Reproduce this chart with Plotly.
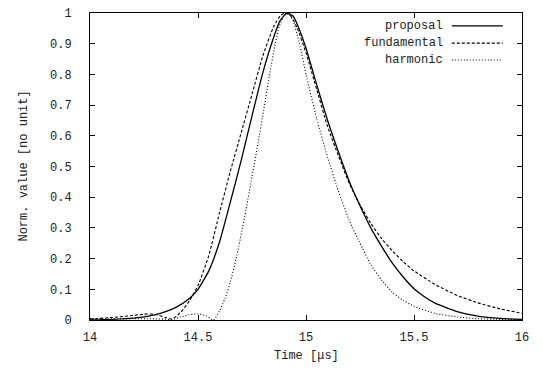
import plotly.graph_objects as go

# ---- data ----
t_proposal = [14.0, 14.1, 14.2, 14.3, 14.35, 14.4, 14.45, 14.5, 14.55, 14.6, 14.65, 14.7,
              14.75, 14.8, 14.85, 14.88, 14.912, 14.94, 14.97, 15.0, 15.05, 15.1, 15.15,
              15.2, 15.25, 15.3, 15.35, 15.4, 15.45, 15.5, 15.55, 15.6, 15.7, 15.8, 15.9, 16.0]
v_proposal = [0.0, 0.002, 0.006, 0.017, 0.027, 0.042, 0.064, 0.100, 0.160, 0.255, 0.385, 0.520,
              0.665, 0.805, 0.920, 0.975, 1.0, 0.99, 0.945, 0.885, 0.765, 0.650, 0.548,
              0.452, 0.372, 0.300, 0.240, 0.185, 0.140, 0.102, 0.075, 0.054, 0.027, 0.012,
              0.005, 0.002]

t_fundamental = [14.0, 14.1, 14.2, 14.25, 14.3, 14.35, 14.38, 14.42, 14.46, 14.5, 14.55, 14.6,
                 14.65, 14.7, 14.75, 14.8, 14.85, 14.88, 14.902, 14.93, 14.96, 15.0, 15.05,
                 15.1, 15.15, 15.2, 15.25, 15.3, 15.35, 15.4, 15.45, 15.5, 15.6, 15.7, 15.8,
                 15.9, 16.0]
v_fundamental = [0.003, 0.008, 0.015, 0.019, 0.019, 0.008, 0.003, 0.025, 0.062, 0.112, 0.210, 0.350,
                 0.485, 0.610, 0.735, 0.860, 0.955, 0.990, 1.0, 0.99, 0.95, 0.87, 0.75,
                 0.63, 0.535, 0.445, 0.375, 0.315, 0.265, 0.225, 0.190, 0.160, 0.115, 0.080,
                 0.055, 0.036, 0.022]

t_harmonic = [14.0, 14.1, 14.2, 14.3, 14.38, 14.42, 14.46, 14.5, 14.54, 14.572, 14.6, 14.625,
              14.65, 14.68, 14.722, 14.75, 14.778, 14.804, 14.83, 14.858, 14.876, 14.898, 14.915,
              14.94, 14.97, 15.0, 15.05, 15.1, 15.15, 15.2, 15.25, 15.3, 15.35, 15.4, 15.45,
              15.5, 15.6, 15.7, 15.8, 15.9, 16.0]
v_harmonic = [0.005, 0.003, 0.004, 0.004, 0.002, 0.010, 0.017, 0.020, 0.013, 0.0, 0.030, 0.070,
              0.125, 0.210, 0.358, 0.467, 0.576, 0.684, 0.793, 0.902, 0.956, 0.99, 1.0,
              0.975, 0.900, 0.800, 0.655, 0.530, 0.420, 0.325, 0.250, 0.180, 0.130, 0.090,
              0.064, 0.045, 0.021, 0.010, 0.004, 0.002, 0.001]

series_names = ["proposal", "fundamental", "harmonic"]
x_ticks = [14, 14.5, 15, 15.5, 16]
y_ticks = [0, 0.1, 0.2, 0.3, 0.4, 0.5, 0.6, 0.7, 0.8, 0.9, 1]

FONT = "Liberation Mono, Courier New, monospace"
TXT = "#222"
dashes = ["solid", "3px,2px", "1px,2px"]
widths = [1.3, 1.1, 1.1]

fig = go.Figure()
for name, tx, vy, d, w in zip(series_names,
                              [t_proposal, t_fundamental, t_harmonic],
                              [v_proposal, v_fundamental, v_harmonic], dashes, widths):
    fig.add_trace(go.Scatter(x=tx, y=vy, mode="lines", name=name, showlegend=False,
                             line=dict(color="black", width=w, dash=d,
                                       shape="spline", smoothing=0.5)))

# gnuplot-style key: text right-aligned, sample line to the right
key_y = [0.958, 0.902, 0.847]
for name, ky, d, w in zip(series_names, key_y, dashes, widths):
    fig.add_annotation(x=15.645, y=ky, xref="x", yref="y", text=name, showarrow=False,
                       xanchor="right", yanchor="middle",
                       font=dict(family=FONT, size=12, color=TXT))
    fig.add_shape(type="line", xref="x", yref="y", x0=15.675, x1=15.911, y0=ky, y1=ky,
                  line=dict(color="black", width=w, dash=d))

# axis titles
fig.add_annotation(x=-0.155, y=0.5, xref="paper", yref="paper", text="Norm. value [no unit]",
                   textangle=-90, showarrow=False, xanchor="center", yanchor="middle",
                   font=dict(family=FONT, size=12, color=TXT))
fig.add_annotation(x=0.5, y=-0.117, xref="paper", yref="paper", text="Time [μs]",
                   showarrow=False, xanchor="center", yanchor="middle",
                   font=dict(family=FONT, size=12, color=TXT))

axis_common = dict(showline=True, linecolor="black", linewidth=1, mirror="ticks",
                   ticks="inside", ticklen=5, tickcolor="black", tickwidth=1,
                   showgrid=False, zeroline=False, automargin=False,
                   ticklabeloverflow="allow",
                   tickfont=dict(family=FONT, size=12, color=TXT))

fig.update_xaxes(range=[14, 16], tickvals=x_ticks, ticktext=[f"{v:g}" for v in x_ticks],
                 ticklabelstandoff=6, **axis_common)
fig.update_yaxes(range=[0, 1], tickvals=y_ticks, ticktext=[f"{v:g}" for v in y_ticks],
                 ticklabelstandoff=15, **axis_common)

# page body has an 8px margin, so the figure is sized to fit inside the window
fig.update_layout(width=527, height=358, margin=dict(l=82, r=13, t=5, b=46),
                  paper_bgcolor="white", plot_bgcolor="white",
                  font=dict(family=FONT, size=12, color=TXT))

fig.write_html("out.html")
